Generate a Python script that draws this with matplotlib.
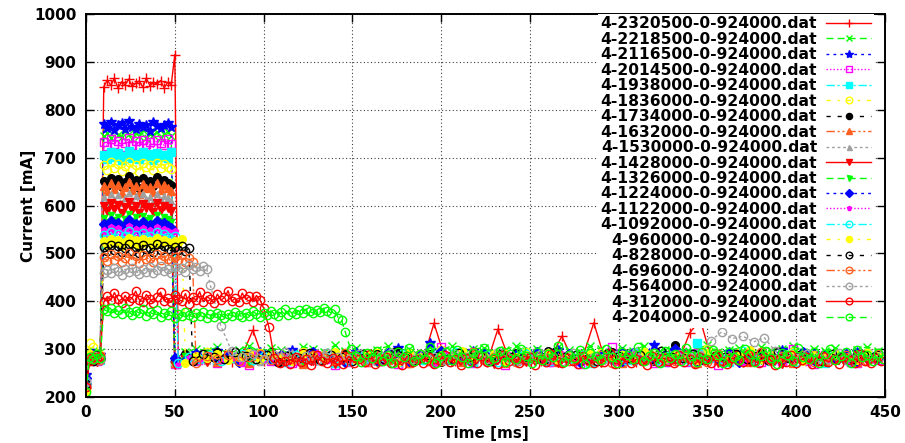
import numpy as np
import matplotlib
matplotlib.use("Agg")
import matplotlib.pyplot as plt

# ---------------- data ----------------
LABELS = ["4-2320500-0-924000.dat", "4-2218500-0-924000.dat", "4-2116500-0-924000.dat",
          "4-2014500-0-924000.dat", "4-1938000-0-924000.dat", "4-1836000-0-924000.dat",
          "4-1734000-0-924000.dat", "4-1632000-0-924000.dat", "4-1530000-0-924000.dat",
          "4-1428000-0-924000.dat", "4-1326000-0-924000.dat", "4-1224000-0-924000.dat",
          "4-1122000-0-924000.dat", "4-1092000-0-924000.dat", "4-960000-0-924000.dat",
          "4-828000-0-924000.dat", "4-696000-0-924000.dat", "4-564000-0-924000.dat",
          "4-312000-0-924000.dat", "4-204000-0-924000.dat"]

X_TICKS = [0, 50, 100, 150, 200, 250, 300, 350, 400, 450]
Y_TICKS = [200, 300, 400, 500, 600, 700, 800, 900, 1000]

# sampling of the traces (ms)
PRE_STEP = 2      # samples before the pulse start at t = 0
PLAT_START = 10   # first sample of the pulse
PLAT_STEP = 2
BASE_STEPS = [6, 6, 6, 6, 6, 6, 6, 6, 6, 6, 6, 6, 6, 6, 6, 6, 6, 6, 3, 3]  # after the pulse

# ---- 4-2320500 ----
pre_2320500 = [218, 283, 279, 288, 281]
plat_2320500 = [848, 862, 851, 866, 845, 858, 852, 864, 849, 855, 860, 847, 866, 850, 858, 853, 861, 846, 857, 852, 915]
base_2320500 = [276, 284, 279, 290, 281, 273, 287, 340, 276, 292, 283, 278, 271, 286, 280, 289, 275, 282, 277, 288,
                281, 274, 285, 279, 354, 283, 276, 290, 280, 273, 342, 282, 278, 287, 275, 284, 327, 279, 286, 355,
                281, 276, 289, 274, 283, 279, 288, 277, 334, 361, 282, 278, 286, 273, 284, 290, 279, 276, 287, 281,
                275, 288, 280, 284, 277, 290, 283]
# ---- 4-2218500 ----
pre_2218500 = [225, 290, 296, 288, 293]
plat_2218500 = [745, 752, 740, 757, 748, 743, 755, 749, 738, 751, 746, 758, 742, 750, 747, 754, 741, 749, 753, 745]
base_2218500 = [280, 293, 301, 296, 304, 290, 299, 307, 294, 302, 298, 289, 305, 300, 293, 308, 297, 302, 291, 299,
                306, 295, 301, 288, 304, 298, 307, 293, 300, 303, 292, 299, 306, 296, 301, 290, 305, 298, 294, 307,
                300, 292, 303, 297, 306, 291, 299, 304, 295, 301, 308, 293, 298, 302, 289, 305, 297, 300, 307, 294,
                301, 296, 303, 290, 299, 305, 297]
# ---- 4-2116500 ----
pre_2116500 = [245, 285, 291, 280, 287]
plat_2116500 = [770, 762, 775, 758, 768, 772, 760, 777, 765, 759, 771, 763, 768, 756, 774, 766, 761, 769, 773, 764]
base_2116500 = [272, 285, 291, 279, 296, 283, 288, 276, 293, 281, 287, 299, 284, 278, 290, 286, 280, 295, 283, 277,
                289, 302, 285, 281, 312, 279, 287, 283, 296, 280, 288, 284, 276, 293, 287, 281, 298, 284, 279, 290,
                286, 282, 295, 280, 288, 309, 285, 279, 292, 283, 287, 277, 294, 286, 281, 290, 284, 299, 280, 287,
                292, 282, 286, 279, 294, 285, 289]
# ---- 4-2014500 ----
pre_2014500 = [230, 282, 288, 276, 285]
plat_2014500 = [733, 725, 738, 728, 735, 722, 731, 740, 727, 734, 724, 736, 729, 732, 721, 737, 730, 726, 739, 728]
base_2014500 = [268, 281, 276, 289, 272, 284, 279, 266, 287, 275, 283, 270, 291, 278, 285, 267, 280, 288, 274, 282,
                277, 269, 290, 283, 276, 305, 279, 285, 271, 288, 281, 266, 284, 277, 292, 273, 280, 286, 268, 283,
                278, 304, 275, 289, 281, 270, 286, 279, 274, 291, 282, 267, 285, 278, 288, 273, 281, 276, 300, 284,
                269, 287, 279, 283, 272, 290, 277]
# ---- 4-1938000 ----
pre_1938000 = [228, 279, 286, 283, 278]
plat_1938000 = [706, 698, 712, 701, 709, 695, 704, 714, 700, 707, 697, 711, 703, 708, 696, 710, 702, 706, 699, 712]
base_1938000 = [270, 283, 278, 290, 275, 286, 281, 273, 288, 279, 284, 276, 292, 280, 285, 272, 287, 282, 277, 289,
                281, 274, 286, 279, 283, 295, 278, 288, 273, 284, 280, 287, 276, 291, 282, 275, 286, 279, 283, 271,
                288, 280, 285, 277, 290, 282, 274, 286, 281, 312, 279, 284, 273, 288, 280, 286, 276, 283, 291, 278,
                285, 272, 287, 281, 279, 289, 283]
# ---- 4-1836000 ----
pre_1836000 = [215, 312, 305, 284, 288]
plat_1836000 = [684, 675, 690, 679, 686, 672, 683, 691, 677, 685, 670, 688, 680, 684, 674, 689, 678, 686, 681, 676]
base_1836000 = [274, 286, 281, 293, 278, 289, 284, 276, 291, 282, 287, 279, 295, 283, 288, 275, 290, 285, 280, 292,
                284, 277, 289, 282, 286, 298, 281, 291, 276, 287, 283, 290, 279, 294, 285, 278, 289, 282, 286, 274,
                291, 283, 288, 280, 293, 285, 277, 289, 284, 282, 300, 287, 276, 291, 283, 289, 279, 286, 294, 281,
                288, 275, 290, 284, 282, 292, 286]
# ---- 4-1734000 ----
pre_1734000 = [222, 276, 284, 280, 286]
plat_1734000 = [652, 641, 658, 645, 655, 638, 650, 661, 643, 653, 636, 657, 647, 651, 640, 659, 644, 654, 648, 642]
base_1734000 = [276, 290, 282, 279, 293, 285, 274, 288, 281, 295, 278, 286, 291, 280, 284, 277, 292, 287, 275, 289,
                283, 296, 279, 285, 290, 274, 287, 282, 294, 280, 288, 276, 291, 284, 279, 297, 283, 289, 275, 286,
                281, 293, 278, 290, 284, 276, 288, 309, 282, 279, 291, 285, 277, 289, 283, 294, 280, 286, 275, 292,
                284, 288, 278, 283, 290, 281, 287]
# ---- 4-1632000 ----
pre_1632000 = [219, 281, 277, 289, 282]
plat_1632000 = [640, 630, 646, 634, 643, 627, 638, 649, 632, 641, 625, 645, 636, 639, 629, 647, 633, 642, 637, 631]
base_1632000 = [270, 283, 277, 290, 274, 281, 286, 272, 279, 288, 275, 284, 269, 282, 291, 276, 280, 285, 273, 287,
                278, 282, 271, 289, 276, 284, 280, 274, 292, 279, 283, 270, 286, 277, 281, 288, 273, 285, 279, 276,
                290, 282, 272, 287, 278, 284, 275, 281, 289, 271, 283, 277, 286, 280, 274, 291, 279, 284, 272, 287,
                281, 276, 285, 279, 273, 288, 282]
# ---- 4-1530000 ----
pre_1530000 = [226, 284, 279, 287, 283]
plat_1530000 = [618, 608, 624, 612, 621, 605, 616, 627, 610, 619, 604, 623, 614, 617, 607, 625, 611, 620, 615, 609]
base_1530000 = [274, 287, 281, 276, 292, 284, 279, 289, 273, 286, 282, 295, 278, 285, 290, 276, 283, 288, 280, 274,
                291, 285, 279, 287, 282, 277, 293, 284, 288, 275, 286, 281, 290, 278, 284, 296, 280, 287, 273, 289,
                283, 278, 292, 285, 281, 276, 288, 284, 279, 294, 282, 286, 275, 290, 283, 287, 280, 277, 291, 284,
                279, 288, 282, 276, 289, 285, 281]
# ---- 4-1428000 ----
pre_1428000 = [212, 278, 285, 274, 281]
plat_1428000 = [598, 588, 605, 592, 601, 585, 596, 608, 590, 599, 584, 604, 594, 597, 587, 606, 591, 600, 595, 589]
base_1428000 = [267, 279, 284, 273, 281, 288, 270, 276, 285, 279, 272, 283, 290, 275, 280, 268, 286, 278, 282, 274,
                287, 271, 279, 284, 276, 289, 273, 281, 277, 285, 269, 283, 278, 274, 288, 280, 272, 286, 277, 282,
                270, 284, 279, 275, 290, 281, 273, 278, 286, 276, 283, 271, 280, 287, 274, 279, 284, 269, 282, 277,
                285, 273, 281, 278, 288, 275, 280]
# ---- 4-1326000 ----
pre_1326000 = [231, 283, 278, 290, 284]
plat_1326000 = [574, 565, 580, 569, 577, 562, 572, 583, 567, 575, 561, 579, 570, 573, 564, 581, 568, 576, 571, 566]
base_1326000 = [272, 285, 279, 291, 276, 283, 288, 274, 281, 294, 278, 286, 273, 284, 280, 290, 277, 282, 287, 271,
                285, 279, 293, 276, 283, 289, 274, 281, 286, 278, 292, 280, 275, 288, 283, 277, 290, 282, 273, 286,
                279, 284, 276, 291, 281, 287, 274, 283, 279, 289, 277, 285, 272, 288, 282, 276, 292, 280, 285, 278,
                283, 274, 289, 281, 277, 286, 282]
# ---- 4-1224000 ----
pre_1224000 = [240, 280, 287, 282, 279]
plat_1224000 = [561, 553, 567, 556, 564, 550, 559, 570, 554, 562, 549, 566, 557, 560, 551, 568, 555, 563, 558, 552]
base_1224000 = [281, 276, 290, 284, 279, 287, 273, 292, 285, 280, 288, 277, 283, 295, 279, 286, 274, 289, 282, 278,
                291, 285, 276, 288, 283, 297, 280, 286, 275, 290, 284, 279, 287, 281, 293, 277, 285, 289, 274, 282,
                288, 280, 276, 291, 284, 279, 286, 300, 283, 277, 289, 281, 285, 274, 290, 283, 287, 279, 282, 294,
                278, 286, 280, 289, 276, 284, 282]
# ---- 4-1122000 ----
pre_1122000 = [224, 277, 284, 281, 276]
plat_1122000 = [549, 541, 555, 544, 552, 538, 547, 558, 542, 550, 537, 554, 545, 548, 539, 556, 543, 551, 546, 540, 547]
base_1122000 = [266, 281, 275, 287, 278, 284, 271, 289, 280, 276, 285, 273, 282, 291, 277, 283, 270, 286, 279, 274,
                288, 281, 276, 284, 269, 290, 282, 278, 285, 273, 280, 287, 275, 283, 279, 271, 289, 284, 277, 282,
                286, 274, 280, 292, 278, 283, 272, 287, 281, 276, 284, 279, 290, 273, 285, 280, 277, 288, 282, 274,
                286, 279, 283, 271, 289, 280]
# ---- 4-1092000 ----
pre_1092000 = [229, 286, 280, 277, 285]
plat_1092000 = [538, 529, 544, 533, 541, 527, 536, 546, 531, 539, 525, 543, 534, 537, 528, 545, 532, 540, 535, 530, 536]
base_1092000 = [270, 284, 279, 288, 275, 282, 290, 277, 285, 280, 273, 287, 283, 278, 292, 281, 276, 286, 279, 284,
                271, 289, 282, 277, 285, 280, 294, 278, 283, 287, 274, 281, 286, 279, 290, 276, 284, 280, 288, 273,
                282, 285, 278, 291, 283, 277, 286, 281, 275, 289, 282, 279, 284, 296, 277, 285, 280, 288, 274, 283,
                279, 287, 281, 276, 290, 284]
# ---- 4-960000 ----
pre_960000 = [213, 289, 283, 279, 287]
plat_960000 = [526, 517, 531, 521, 528, 515, 524, 533, 519, 527, 514, 530, 522, 525, 516, 532, 520, 528, 523, 518,
               526, 521, 529]
base_960000 = [272, 286, 281, 290, 277, 284, 292, 279, 287, 282, 276, 289, 285, 280, 294, 283, 278, 288, 281, 286,
               274, 291, 284, 279, 287, 282, 296, 280, 285, 289, 276, 283, 288, 281, 292, 278, 286, 282, 290, 275,
               284, 287, 280, 293, 285, 279, 288, 283, 277, 291, 284, 281, 286, 298, 279, 287, 282, 290, 276, 285,
               281, 289, 283, 278, 292, 286]
# ---- 4-828000 ----
pre_828000 = [227, 282, 276, 288, 281]
plat_828000 = [513, 504, 518, 508, 515, 502, 511, 520, 506, 514, 501, 517, 509, 512, 503, 519, 507, 515, 510, 505,
               513, 508, 516, 504, 511]
base_828000 = [276, 290, 284, 279, 293, 286, 280, 288, 274, 285, 282, 291, 278, 287, 283, 276, 289, 284, 280, 295,
               282, 277, 288, 285, 279, 292, 283, 287, 275, 290, 284, 281, 286, 278, 294, 283, 288, 280, 276, 291,
               285, 282, 287, 279, 296, 284, 281, 289, 277, 286, 283, 290, 280, 285, 278, 293, 282, 287, 281, 276,
               289, 284, 280, 288, 283]
# ---- 4-696000 ----
pre_696000 = [221, 279, 286, 282, 277]
plat_696000 = [493, 484, 498, 487, 495, 481, 490, 500, 485, 494, 480, 497, 488, 491, 482, 499, 486, 495, 489, 484,
               492, 487, 496, 483, 490, 481]
base_696000 = [272, 285, 279, 288, 275, 283, 290, 277, 284, 280, 273, 287, 282, 278, 291, 281, 275, 286, 279, 284,
               270, 289, 282, 276, 285, 280, 293, 277, 283, 287, 274, 281, 286, 278, 290, 276, 284, 279, 288, 272,
               282, 285, 277, 291, 283, 276, 286, 281, 274, 289, 282, 278, 284, 295, 276, 285, 280, 288, 273, 283,
               278, 287, 281, 275, 290]
# ---- 4-564000 ----
pre_564000 = [233, 284, 281, 286, 279]
plat_564000 = [460, 466, 458, 469, 463, 455, 467, 461, 470, 464, 457, 468, 462, 471, 459, 466, 473, 463, 468, 460,
               472, 465, 470, 462, 475, 467, 471, 464, 473, 468]
base_564000 = [434, 348, 296, 284, 290, 279, 287, 293, 281, 286, 278, 291, 284, 280, 289, 276, 285, 292, 282, 279,
               288, 284, 277, 290, 283, 287, 280, 294, 282, 278, 286, 289, 281, 276, 291, 285, 283, 279, 288, 284,
               293, 280, 286, 278, 290, 283, 287, 318, 336, 322, 327, 315, 324, 296, 286, 281, 289, 284, 279, 291,
               283, 287, 280, 285]
# ---- 4-312000 ----
pre_312000 = [220, 276, 283, 279, 285]
plat_312000 = [398, 410, 402, 418, 404, 396, 412, 400, 407, 421, 403, 399, 414, 405, 397, 409, 419, 401, 406, 398,
               413, 404, 400, 416, 395, 408, 403, 420, 399, 410, 405, 397, 415, 402, 408, 422, 400, 406, 398, 417,
               404, 410, 399, 412, 403]
base_312000 = [386, 346, 282, 271, 276, 268, 284, 273, 279, 266, 287, 275, 270, 281, 277, 268, 285, 272, 279, 274,
               290, 269, 276, 283, 271, 278, 266, 286, 274, 280, 272, 284, 269, 277, 288, 273, 279, 267, 282, 276,
               270, 285, 274, 279, 268, 287, 275, 281, 271, 277, 284, 266, 279, 273, 289, 276, 270, 282, 275, 268,
               286, 278, 272, 280, 274, 291, 269, 277, 283, 271, 279, 275, 267, 285, 273, 281, 276, 270, 288, 274,
               280, 268, 283, 277, 272, 286, 275, 269, 281, 278, 273, 290, 276, 270, 284, 279, 267, 282, 274, 287,
               271, 278, 283, 269, 276, 285, 273, 280, 268, 284, 277, 272, 289, 275, 270, 281, 276]
# ---- 4-204000 ----
pre_204000 = [210, 284, 279, 290, 282]
plat_204000 = [383, 379, 386, 376, 381, 374, 385, 378, 372, 380, 375, 383, 370, 377, 373, 381, 368, 376, 371, 379,
               366, 374, 369, 377, 372, 367, 375, 370, 378, 365, 373, 368, 376, 371, 366, 374, 369, 377, 372, 367,
               375, 370, 379, 373, 368, 376, 371, 380, 374, 369, 377, 383, 372, 378, 374, 381, 376, 384, 379, 375,
               382, 377, 386, 380, 376, 383, 366, 360]
base_204000 = [336, 300, 286, 273, 292, 281, 297, 276, 288, 270, 294, 283, 302, 275, 289, 279, 305, 272, 286, 293,
               278, 299, 284, 270, 291, 287, 303, 276, 282, 296, 273, 289, 280, 301, 285, 271, 294, 278, 290, 283,
               306, 274, 287, 281, 298, 269, 292, 285, 277, 300, 284, 272, 295, 288, 279, 304, 275, 286, 291, 270,
               297, 282, 289, 276, 302, 285, 273, 293, 280, 299, 287, 271, 295, 283, 278, 301, 290, 274, 286, 297,
               281, 269, 292, 288, 276, 303, 284, 279, 295, 272, 289, 300, 277, 285, 293, 270, 298, 283, 287, 275,
               291, 280]

SERIES = [
    (pre_2320500, plat_2320500, base_2320500), (pre_2218500, plat_2218500, base_2218500),
    (pre_2116500, plat_2116500, base_2116500), (pre_2014500, plat_2014500, base_2014500),
    (pre_1938000, plat_1938000, base_1938000), (pre_1836000, plat_1836000, base_1836000),
    (pre_1734000, plat_1734000, base_1734000), (pre_1632000, plat_1632000, base_1632000),
    (pre_1530000, plat_1530000, base_1530000), (pre_1428000, plat_1428000, base_1428000),
    (pre_1326000, plat_1326000, base_1326000), (pre_1224000, plat_1224000, base_1224000),
    (pre_1122000, plat_1122000, base_1122000), (pre_1092000, plat_1092000, base_1092000),
    (pre_960000, plat_960000, base_960000), (pre_828000, plat_828000, base_828000),
    (pre_696000, plat_696000, base_696000), (pre_564000, plat_564000, base_564000),
    (pre_312000, plat_312000, base_312000), (pre_204000, plat_204000, base_204000),
]

# ---------------- styles (gnuplot-like line types) ----------------
RED, GREEN, BLUE, MAGENTA, CYAN, YELLOW, BLACK, ORANGE, GRAY = (
    "#ff0000", "#00ff00", "#0000ff", "#ff00ff", "#00ffff", "#ffff00", "#000000", "#ff6020", "#a0a0a0")
DASH = {
    1: "-", 2: (0, (5, 3)), 3: (0, (2, 3)), 4: (0, (1, 1.5)), 5: (0, (6, 2, 1.5, 2)),
    6: (0, (3, 5, 1.5, 5)), 7: (0, (3, 5)), 8: (0, (6, 2, 1.5, 2, 1.5, 2)), 9: (0, (2, 2)),
}
STYLES = [
    dict(color=RED, ls=DASH[1], marker="+", ms=7, mfc=RED),
    dict(color=GREEN, ls=DASH[2], marker="x", ms=6, mfc=GREEN),
    dict(color=BLUE, ls=DASH[3], marker="*", ms=7.5, mfc=BLUE),
    dict(color=MAGENTA, ls=DASH[4], marker="s", ms=6, mfc="none"),
    dict(color=CYAN, ls=DASH[5], marker="s", ms=5.5, mfc=CYAN),
    dict(color=YELLOW, ls=DASH[6], marker="o", ms=6, mfc="none"),
    dict(color=BLACK, ls=DASH[7], marker="o", ms=5.5, mfc=BLACK),
    dict(color=ORANGE, ls=DASH[8], marker="^", ms=6, mfc=ORANGE),
    dict(color=GRAY, ls=DASH[9], marker="^", ms=4.5, mfc=GRAY),
    dict(color=RED, ls=DASH[1], marker="v", ms=6, mfc=RED),
    dict(color=GREEN, ls=DASH[2], marker="v", ms=4.5, mfc=GREEN),
    dict(color=BLUE, ls=DASH[3], marker="D", ms=5, mfc=BLUE),
    dict(color=MAGENTA, ls=DASH[4], marker="p", ms=4.5, mfc=MAGENTA),
    dict(color=CYAN, ls=DASH[5], marker="o", ms=6, mfc="none"),
    dict(color=YELLOW, ls=DASH[6], marker="o", ms=5.5, mfc=YELLOW),
    dict(color=BLACK, ls=DASH[7], marker="o", ms=6, mfc="none"),
    dict(color=ORANGE, ls=DASH[8], marker="o", ms=6, mfc="none"),
    dict(color=GRAY, ls=DASH[9], marker="o", ms=6, mfc="none"),
    dict(color=RED, ls=DASH[1], marker="o", ms=6, mfc="none"),
    dict(color=GREEN, ls=DASH[2], marker="o", ms=6, mfc="none"),
]

# ---------------- figure ----------------
plt.rcParams["font.family"] = ["DejaVu Sans"]
plt.rcParams["font.weight"] = "bold"
plt.rcParams["axes.labelweight"] = "bold"

fig = plt.figure(figsize=(9.05, 4.43), dpi=100)
ax = fig.add_axes([86 / 905, 46 / 443, 799 / 905, 383 / 443])

for label, (pre, plat, base), bstep, st in zip(LABELS, SERIES, BASE_STEPS, STYLES):
    t_pre = PRE_STEP * np.arange(len(pre))
    t_plat = PLAT_START + PLAT_STEP * np.arange(len(plat))
    t_base = t_plat[-1] + 2 + bstep * np.arange(len(base))
    t = np.concatenate([t_pre, t_plat, t_base])
    v = np.concatenate([pre, plat, base])
    ax.plot(t, v, label=label, color=st["color"], linestyle=st["ls"], linewidth=1.0,
            marker=st["marker"], markersize=st["ms"], markerfacecolor=st["mfc"],
            markeredgecolor=st["color"], markeredgewidth=1.0)

ax.set_xlim(0, 450)
ax.set_ylim(200, 1000)
ax.set_xticks(X_TICKS)
ax.set_yticks(Y_TICKS)
ax.tick_params(direction="in", length=5.5, width=1.0, top=True, right=True,
               labelsize=11, pad=6)
ax.tick_params(axis="y", pad=7)
for sp in ax.spines.values():
    sp.set_linewidth(1.4)

ax.set_axisbelow(True)
ax.grid(True, color="#404040", linewidth=0.8, linestyle=(0, (1, 2.2)))

ax.set_xlabel("Time [ms]", fontsize=11, fontweight="bold")
ax.set_ylabel("Current [mA]", fontsize=11, fontweight="bold")
ax.xaxis.set_label_coords(0.5, -0.075)
ax.yaxis.set_label_coords(-0.063, 0.5)

leg = ax.legend(loc="upper right", bbox_to_anchor=(0.986, 1.0), markerfirst=False,
                numpoints=1, frameon=True, fancybox=False, framealpha=1.0,
                facecolor="white", edgecolor="white", borderpad=0.15, borderaxespad=0,
                handlelength=2.9, handletextpad=0.6, labelspacing=0.03,
                markerscale=0.8, prop=dict(size=11.2, weight="bold"))
leg.get_frame().set_linewidth(0)

fig.savefig("out.png", dpi=100)
